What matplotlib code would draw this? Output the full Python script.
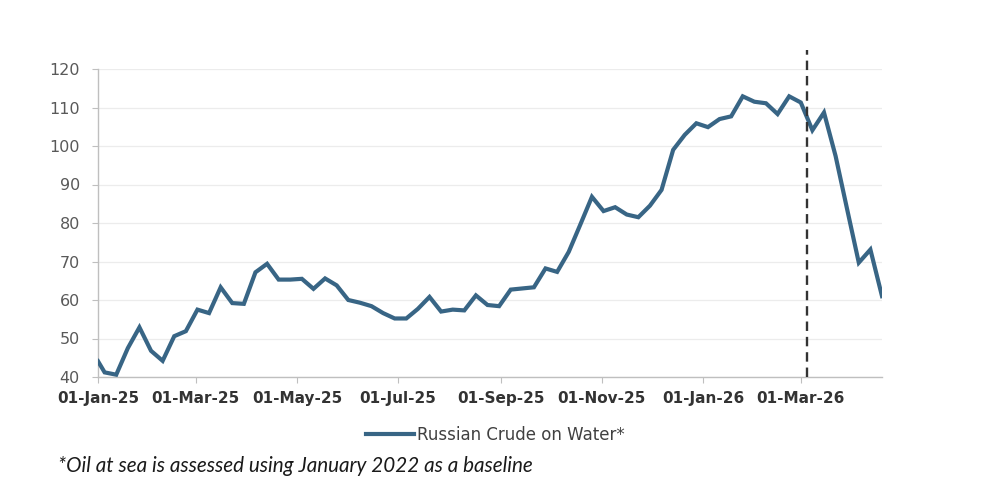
import numpy as np
import pandas as pd
import matplotlib
matplotlib.use('Agg')
import matplotlib.pyplot as plt
import matplotlib.dates as mdates

plt.rcParams['font.family'] = ['DejaVu Sans']

# Weekly series: first point on 01-Jan-25, then Sundays from 05-Jan-25 to 19-Apr-26
dates = [pd.Timestamp('2025-01-01')] + list(pd.date_range('2025-01-05', '2026-04-19', freq='7D'))

crude_on_water = [
    44.1, 41.2, 40.6, 47.5, 52.9, 46.8, 44.2, 50.6, 51.9, 57.5,
    56.6, 63.3, 59.2, 59.0, 67.2, 69.4, 65.3, 65.3, 65.5, 62.9,
    65.6, 63.8, 60.0, 59.3, 58.4, 56.6, 55.2, 55.2, 57.7, 60.8,
    57.0, 57.5, 57.3, 61.2, 58.7, 58.4, 62.7, 63.0, 63.3, 68.2,
    67.3, 72.5, 79.6, 86.8, 83.1, 84.1, 82.2, 81.5, 84.5, 88.6,
    99.0, 102.9, 105.9, 104.9, 107.0, 107.7, 112.9, 111.5, 111.1, 108.3,
    112.9, 111.3, 104.1, 108.7, 97.4, 83.5, 69.7, 73.1, 61.0,
]

marker_date = pd.Timestamp('2026-03-05')
series_name = 'Russian Crude on Water*'
footnote = '*Oil at sea is assessed using January 2022 as a baseline'

line_color = '#386585'

fig = plt.figure(figsize=(9.85, 4.95), dpi=100)
ax = fig.add_axes([98 / 985, 1 - 377 / 495, (882 - 98) / 985, (377 - 69) / 495])

ax.plot(dates, crude_on_water, color=line_color, lw=3.0, solid_joinstyle='miter',
        label=series_name, zorder=3)

# vertical dashed marker, drawn past the top of the plot area
ax.plot([marker_date, marker_date], [40, 125], color='#333333', lw=1.7,
        dashes=(4, 2.5), clip_on=False, zorder=4)

ax.set_ylim(40, 120)
ax.set_yticks(range(40, 121, 10))
ax.set_xlim(dates[0], dates[-1])

ticks = pd.date_range('2025-01-01', '2026-03-01', freq='2MS')
ax.set_xticks(ticks)
ax.xaxis.set_major_formatter(mdates.DateFormatter('%d-%b-%y'))

ax.grid(axis='y', color='#ececec', lw=0.9)
ax.set_axisbelow(True)
for s in ['top', 'right']:
    ax.spines[s].set_visible(False)
for s in ['left', 'bottom']:
    ax.spines[s].set_color('#bfbfbf')
    ax.spines[s].set_linewidth(1.0)

ax.tick_params(axis='y', colors='#bfbfbf', labelcolor='#595959', labelsize=11.5,
               length=4, pad=9)
ax.tick_params(axis='x', colors='#bfbfbf', labelcolor='#333333', labelsize=11,
               length=4, pad=6)
for lbl in ax.get_xticklabels():
    lbl.set_fontweight('bold')

fig.legend(loc='center', bbox_to_anchor=(495 / 985, 1 - 435 / 495), frameon=False,
           fontsize=12, handlelength=2.9, handletextpad=0.15, labelcolor='#404040')

fig.text(58 / 985, 1 - 466 / 495, footnote, fontsize=14.9, style='italic',
         family=['Lato', 'DejaVu Sans'], color='#1a1a1a', va='center', ha='left')

fig.savefig('out.png', dpi=100, facecolor='white')
